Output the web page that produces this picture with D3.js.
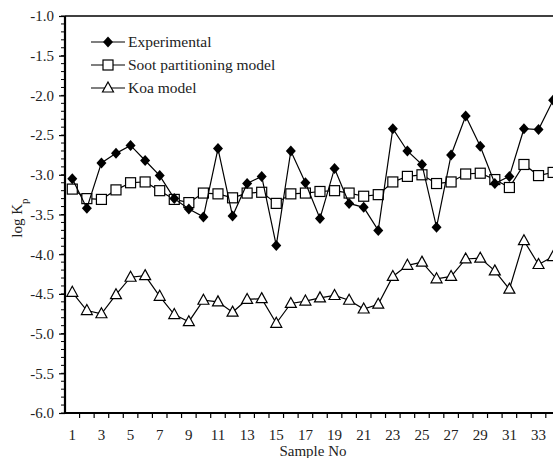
<!DOCTYPE html>
<html>
<head>
<meta charset="utf-8">
<script src="https://cdn.jsdelivr.net/npm/d3@7"></script>
<style>
  body { margin: 0; background: #fff; }
  svg { display: block; }
  text { font-family: "Liberation Serif", "Times New Roman", serif; fill: #222; }
</style>
</head>
<body>
<svg id="chart" width="553" height="458"></svg>
<script>
// sample numbers
var samples = d3.range(1, 35);
// log Kp values
var experimental = [-3.05, -3.42, -2.85, -2.73, -2.63, -2.82, -3.01, -3.30, -3.43, -3.53,
  -2.67, -3.52, -3.11, -3.02, -3.89, -2.70, -3.10, -3.55, -2.92, -3.36,
  -3.41, -3.70, -2.42, -2.70, -2.87, -3.66, -2.75, -2.26, -2.64, -3.11,
  -3.02, -2.42, -2.43, -2.06];
var soot = [-3.18, -3.30, -3.31, -3.19, -3.10, -3.09, -3.20, -3.31, -3.35, -3.23,
  -3.24, -3.29, -3.23, -3.22, -3.36, -3.24, -3.23, -3.21, -3.20, -3.23,
  -3.27, -3.25, -3.09, -3.02, -3.00, -3.11, -3.09, -2.99, -2.98, -3.06,
  -3.16, -2.87, -3.01, -2.97];
var koa = [-4.48, -4.71, -4.75, -4.51, -4.29, -4.27, -4.53, -4.76, -4.85, -4.58,
  -4.60, -4.73, -4.57, -4.56, -4.87, -4.62, -4.59, -4.55, -4.52, -4.58,
  -4.69, -4.63, -4.28, -4.14, -4.10, -4.31, -4.28, -4.06, -4.05, -4.21,
  -4.44, -3.83, -4.13, -4.03];
var yTicks = [-6.0, -5.5, -5.0, -4.5, -4.0, -3.5, -3.0, -2.5, -2.0, -1.5, -1.0];
var xLabels = d3.range(1, 34, 2);
var seriesNames = ["Experimental", "Soot partitioning model", "Koa model"];

var svg = d3.select("#chart");
var plotLeft = 65, plotTop = 16, plotBottom = 413;

var x = d3.scaleLinear().domain([0.5, 35.5]).range([plotLeft, plotLeft + 35 * 14.57]);
var y = d3.scaleLinear().domain([-6, -1]).range([plotBottom, plotTop]);

// frame top line
svg.append("line")
  .attr("x1", plotLeft).attr("x2", 600).attr("y1", plotTop).attr("y2", plotTop)
  .attr("stroke", "#000").attr("stroke-width", 1.5);

// y axis with minor ticks
var yMinor = d3.range(-6, -0.95, 0.1);
svg.append("g").selectAll("line").data(yMinor).join("line")
  .attr("x1", plotLeft - 4).attr("x2", plotLeft)
  .attr("y1", function (d) { return y(d); }).attr("y2", function (d) { return y(d); })
  .attr("stroke", "#000").attr("stroke-width", 1);
var yAxis = svg.append("g").attr("transform", "translate(" + plotLeft + ",0)")
  .call(d3.axisLeft(y).tickValues(yTicks).tickSize(6).tickPadding(5));
yAxis.select(".domain").attr("stroke-width", 2.2).attr("d", "M0," + plotTop + "V" + plotBottom);
yAxis.selectAll(".tick line").attr("stroke-width", 1.2);
yAxis.selectAll("text").style("font-size", "15px")
  .style("font-family", "'Liberation Serif', serif").attr("fill", "#222")
  .text(function (d) { return d3.format(".1f")(d).replace("\u2212", "-"); });

// x axis: ticks between samples, labels on odd samples
svg.append("line")
  .attr("x1", plotLeft).attr("x2", 600).attr("y1", plotBottom).attr("y2", plotBottom)
  .attr("stroke", "#000").attr("stroke-width", 2);
svg.append("g").selectAll("line").data(d3.range(1.5, 35, 1)).join("line")
  .attr("x1", function (d) { return x(d); }).attr("x2", function (d) { return x(d); })
  .attr("y1", plotBottom).attr("y2", plotBottom + 5)
  .attr("stroke", "#000").attr("stroke-width", 1.2);
svg.append("g").selectAll("text").data(xLabels).join("text")
  .attr("x", function (d) { return x(d); }).attr("y", 440)
  .attr("text-anchor", "middle").style("font-size", "15px")
  .text(function (d) { return d; });

// axis titles
svg.append("text").attr("x", 313).attr("y", 456).attr("text-anchor", "middle")
  .style("font-size", "15px").text("Sample No");
var yl = svg.append("text").attr("transform", "translate(22,218) rotate(-90)")
  .attr("text-anchor", "middle").style("font-size", "15px");
yl.append("tspan").text("log K");
yl.append("tspan").attr("baseline-shift", "sub").style("font-size", "11px").text("p");

var line = d3.line().x(function (d, i) { return x(samples[i]); }).y(function (d) { return y(d); });

function diamond(g) {
  g.append("path").attr("d", "M0,-5.5L5,0L0,5.5L-5,0Z").attr("fill", "#000");
}
function square(g) {
  g.append("rect").attr("x", -5).attr("y", -5).attr("width", 10).attr("height", 10)
    .attr("fill", "#fff").attr("stroke", "#000").attr("stroke-width", 1.2);
}
function triangle(g) {
  g.append("path").attr("d", "M0,-6L5.5,4L-5.5,4Z")
    .attr("fill", "#fff").attr("stroke", "#000").attr("stroke-width", 1.2);
}

var series = [
  { vals: koa, mark: triangle },
  { vals: soot, mark: square },
  { vals: experimental, mark: diamond }
];
series.forEach(function (s) {
  svg.append("path").datum(s.vals).attr("d", line)
    .attr("fill", "none").attr("stroke", "#000").attr("stroke-width", 1.2);
  svg.append("g").selectAll("g").data(s.vals).join("g")
    .attr("transform", function (d, i) { return "translate(" + x(samples[i]) + "," + y(d) + ")"; })
    .each(function () { s.mark(d3.select(this)); });
});

// legend
var marks = [diamond, square, triangle];
seriesNames.forEach(function (name, i) {
  var ly = 42 + i * 23;
  svg.append("line").attr("x1", 91).attr("x2", 125).attr("y1", ly).attr("y2", ly)
    .attr("stroke", "#000").attr("stroke-width", 1.2);
  var g = svg.append("g").attr("transform", "translate(108," + ly + ")");
  marks[i](g);
  svg.append("text").attr("x", 128).attr("y", ly + 5).style("font-size", "15.5px").text(name);
});
</script>
</body>
</html>
